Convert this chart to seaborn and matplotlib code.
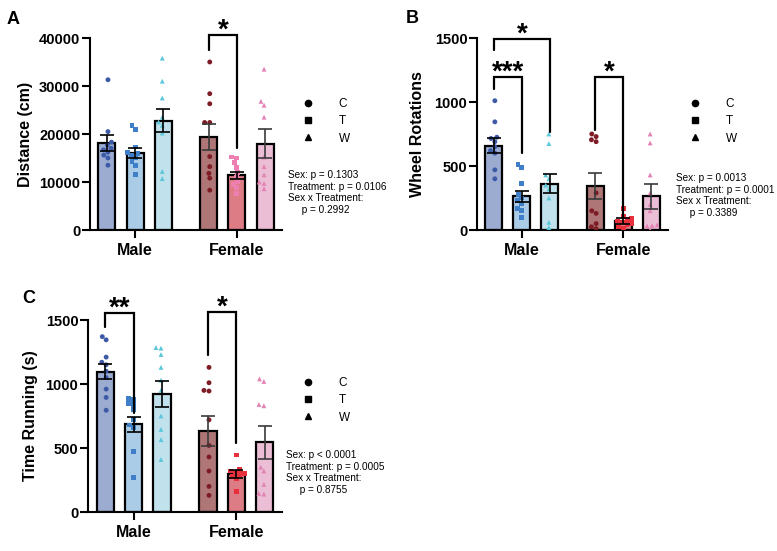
import numpy as np
import pandas as pd
import matplotlib
matplotlib.use("Agg")
import matplotlib.pyplot as plt
from matplotlib.lines import Line2D
import seaborn as sns

# ---------------- data ----------------
sexes = ["Male", "Female"]
treatments = ["C", "T", "W"]

# Panel A: Distance (cm)
a_male_c = [31300, 20500, 18300, 17700, 17000, 16700, 16200, 15600, 15000, 13500]
a_male_t = [21800, 21000, 17300, 16200, 15900, 15600, 15000, 14300, 13500, 11500]
a_male_w = [35800, 31000, 27500, 23500, 22500, 21800, 20200, 12200, 10700]
a_female_c = [35000, 28400, 26300, 22400, 22400, 15300, 13200, 11800, 10800, 8300]
a_female_t = [15200, 15000, 14000, 13100, 12000, 11000, 10000, 9500, 8800, 7600]
a_female_w = [33500, 26800, 26000, 23500, 15200, 13200, 11500, 10000, 9700, 8600]
a_means = [18200, 16000, 22800, 19400, 11400, 18000]   # Male C,T,W, Female C,T,W
a_sems = [1650, 1050, 2400, 2700, 750, 3100]
a_yticks = [0, 10000, 20000, 30000, 40000]
a_stats = "Sex: p = 0.1303\nTreatment: p = 0.0106\nSex x Treatment:\n     p = 0.2992"

# Panel B: Wheel Rotations
b_male_c = [1010, 845, 725, 715, 690, 650, 620, 600, 470, 400]
b_male_t = [510, 485, 365, 280, 250, 230, 210, 170, 150, 100]
b_male_w = [750, 675, 430, 400, 350, 320, 250, 60, 20]
b_female_c = [750, 730, 705, 690, 290, 150, 130, 50, 25, 10]
b_female_t = [165, 105, 90, 80, 70, 60, 50, 40, 30, 15]
b_female_w = [750, 680, 430, 290, 200, 150, 40, 35, 30, 0]
b_means = [660, 262, 362, 345, 68, 262]
b_sems = [62, 45, 75, 104, 22, 100]
b_yticks = [0, 500, 1000, 1500]
b_stats = "Sex: p = 0.0013\nTreatment: p = 0.0001\nSex x Treatment:\n     p = 0.3389"

# Panel C: Time Running (s)
c_male_c = [1370, 1345, 1210, 1170, 1150, 1100, 1050, 960, 895, 795]
c_male_t = [890, 880, 850, 840, 800, 720, 680, 660, 470, 270]
c_male_w = [1285, 1280, 1230, 1130, 1030, 950, 750, 645, 565, 410]
c_female_c = [1130, 1010, 950, 945, 720, 520, 430, 320, 200, 130]
c_female_t = [445, 330, 320, 310, 300, 290, 280, 260, 160]
c_female_w = [1040, 1020, 840, 830, 350, 320, 215, 145, 140]
c_means = [1096, 685, 922, 632, 297, 545]
c_sems = [60, 58, 100, 115, 32, 128]
c_yticks = [0, 500, 1000, 1500]
c_stats = "Sex: p < 0.0001\nTreatment: p = 0.0005\nSex x Treatment:\n     p = 0.8755"

# significance brackets: (bar i, bar j, top y, left foot y, right foot y, label)
a_brackets = [(3, 4, 40600, 37500, 17100, "*")]
b_brackets = [(0, 2, 1490, 1406, 768, "*"), (0, 1, 1193, 1099, 599, "***"),
              (3, 4, 1193, 781, 91, "*")]
c_brackets = [(0, 1, 1552, 1448, 771, "**"), (3, 4, 1565, 1227, 537, "*")]

# ---------------- style ----------------
sns.set_style("ticks")
plt.rcParams["font.family"] = ["Liberation Sans", "DejaVu Sans"]
for key in ["text.color", "axes.labelcolor", "xtick.color", "ytick.color",
            "axes.edgecolor", "xtick.labelcolor", "ytick.labelcolor"]:
    plt.rcParams[key] = "black"

bar_colors = {"Male": {"C": "#93a8d9", "T": "#a0cdf0", "W": "#bae6f3"},
              "Female": {"C": "#b86d6f", "T": "#ee6c79", "W": "#f2b7d6"}}
pt_colors_a = {"Male": {"C": "#3c5aa6", "T": "#3f7fc8", "W": "#5cc8da"},
               "Female": {"C": "#7d1c25", "T": "#ee7fb2", "W": "#e383b4"}}
pt_colors_bc = {"Male": {"C": "#3c5aa6", "T": "#3f7fc8", "W": "#5cc8da"},
                "Female": {"C": "#7d1c25", "T": "#e8303d", "W": "#e383b4"}}
err_colors = ["black", "black", "black", "#3a3a3a", "black", "#3a3a3a"]
markers = {"C": "o", "T": "s", "W": "^"}

W, H = 777, 551
fig = plt.figure(figsize=(W / 100, H / 100), dpi=100)


def px_axes(l, r, top, bottom):
    return fig.add_axes([l / W, 1 - bottom / H, (r - l) / W, (bottom - top) / H])


def draw_panel(ax, pts, means, sems, pt_colors, ylim, yticks, ylabel, ylabel_x, brackets):
    groups = [(s, t) for s in sexes for t in treatments]
    mdf = pd.DataFrame({"Sex": [g[0] for g in groups],
                        "Treatment": [g[1] for g in groups],
                        "Value": means})
    for sex in sexes:
        sns.barplot(data=mdf[mdf.Sex == sex], x="Sex", y="Value", hue="Treatment",
                    order=sexes, hue_order=treatments, palette=bar_colors[sex],
                    width=0.83, gap=0.4, dodge=True, errorbar=None,
                    edgecolor="black", linewidth=1.6, legend=False, ax=ax, zorder=2)
    rows = []
    for (sex, trt), vals in zip(groups, pts):
        for v in vals:
            rows.append({"Sex": sex, "Treatment": trt, "Value": v})
    pdf = pd.DataFrame(rows)
    for sex in sexes:
        for trt in treatments:
            sub = pdf[(pdf.Sex == sex) & (pdf.Treatment == trt)]
            sns.swarmplot(data=sub, x="Sex", y="Value", hue="Treatment", order=sexes,
                          hue_order=treatments, dodge=True, palette=pt_colors[sex],
                          marker=markers[trt], size=3.5, linewidth=0, legend=False,
                          ax=ax, zorder=4)
    bars = sorted([p for p in ax.patches], key=lambda p: p.get_x())
    centers = [p.get_x() + p.get_width() / 2 for p in bars]
    for cx, m, s, ec in zip(centers, means, sems, err_colors):
        ax.errorbar([cx], [m], yerr=[s], fmt="none", ecolor=ec, elinewidth=1.2,
                    capsize=5.2, capthick=1.2, zorder=6)
    for i, j, ytop, yl, yr, lab in brackets:
        x1, x2 = centers[i], centers[j]
        ax.plot([x1, x1, x2, x2], [yl, ytop, ytop, yr], color="black", lw=1.6,
                clip_on=False, solid_joinstyle="miter", zorder=7)
        ax.annotate(lab, xy=((x1 + x2) / 2, ytop), xytext=(0, -1.8),
                    textcoords="offset points", ha="center", va="baseline",
                    fontsize=20, fontweight="bold", annotation_clip=False)
    ax.set_xlim(-0.443, 1.443)
    ax.set_ylim(*ylim)
    ax.set_yticks(yticks)
    ax.set_yticklabels([str(t) for t in yticks])
    ax.set_xlabel("")
    ax.set_ylabel(ylabel, fontsize=11.5, fontweight="bold")
    ax.yaxis.set_label_coords(ylabel_x, 0.5)
    sns.despine(ax=ax)
    for sp in ["left", "bottom"]:
        ax.spines[sp].set_linewidth(1.5)
        ax.spines[sp].set_color("black")
    ax.tick_params(axis="y", labelsize=10.5, width=1.5, length=5.5, pad=1.5)
    ax.tick_params(axis="x", labelsize=11.5, width=1.5, length=5.5, pad=4)
    for lab in ax.get_yticklabels() + ax.get_xticklabels():
        lab.set_fontweight("bold")


axA = px_axes(90, 282, 38, 230)
axB = px_axes(477, 668, 38, 230)
axC = px_axes(88, 282, 320, 512)

draw_panel(axA, [a_male_c, a_male_t, a_male_w, a_female_c, a_female_t, a_female_w],
           a_means, a_sems, pt_colors_a, (0, 40000), a_yticks, "Distance (cm)", -0.297, a_brackets)
draw_panel(axB, [b_male_c, b_male_t, b_male_w, b_female_c, b_female_t, b_female_w],
           b_means, b_sems, pt_colors_bc, (0, 1500), b_yticks, "Wheel Rotations", -0.272, b_brackets)
draw_panel(axC, [c_male_c, c_male_t, c_male_w, c_female_c, c_female_t, c_female_w],
           c_means, c_sems, pt_colors_bc, (0, 1500), c_yticks, "Time Running (s)", -0.258, c_brackets)

# legends
handles = [Line2D([], [], marker=markers[t], color="black", linestyle="none", markersize=4.5)
           for t in treatments]
for lx, ly in [(302, 98), (689, 98), (302, 377)]:
    fig.legend(handles, treatments, loc="upper left", bbox_to_anchor=(lx / W, 1 - ly / H),
               frameon=False, fontsize=8.5, handlelength=1, handletextpad=2.1,
               labelspacing=0.45, borderpad=0, borderaxespad=0)

# stats text
for tx, ty, txt in [(288, 170, a_stats), (676, 173, b_stats), (286, 450, c_stats)]:
    fig.text(tx / W, 1 - ty / H, txt, ha="left", va="top", fontsize=7.2, linespacing=1.2)

# panel letters
for lx, ly, lab in [(7, 11, "A"), (406, 10, "B"), (22, 290, "C")]:
    fig.text(lx / W, 1 - ly / H, lab, ha="left", va="top", fontsize=13, fontweight="bold")

fig.savefig("out.png", dpi=100)
